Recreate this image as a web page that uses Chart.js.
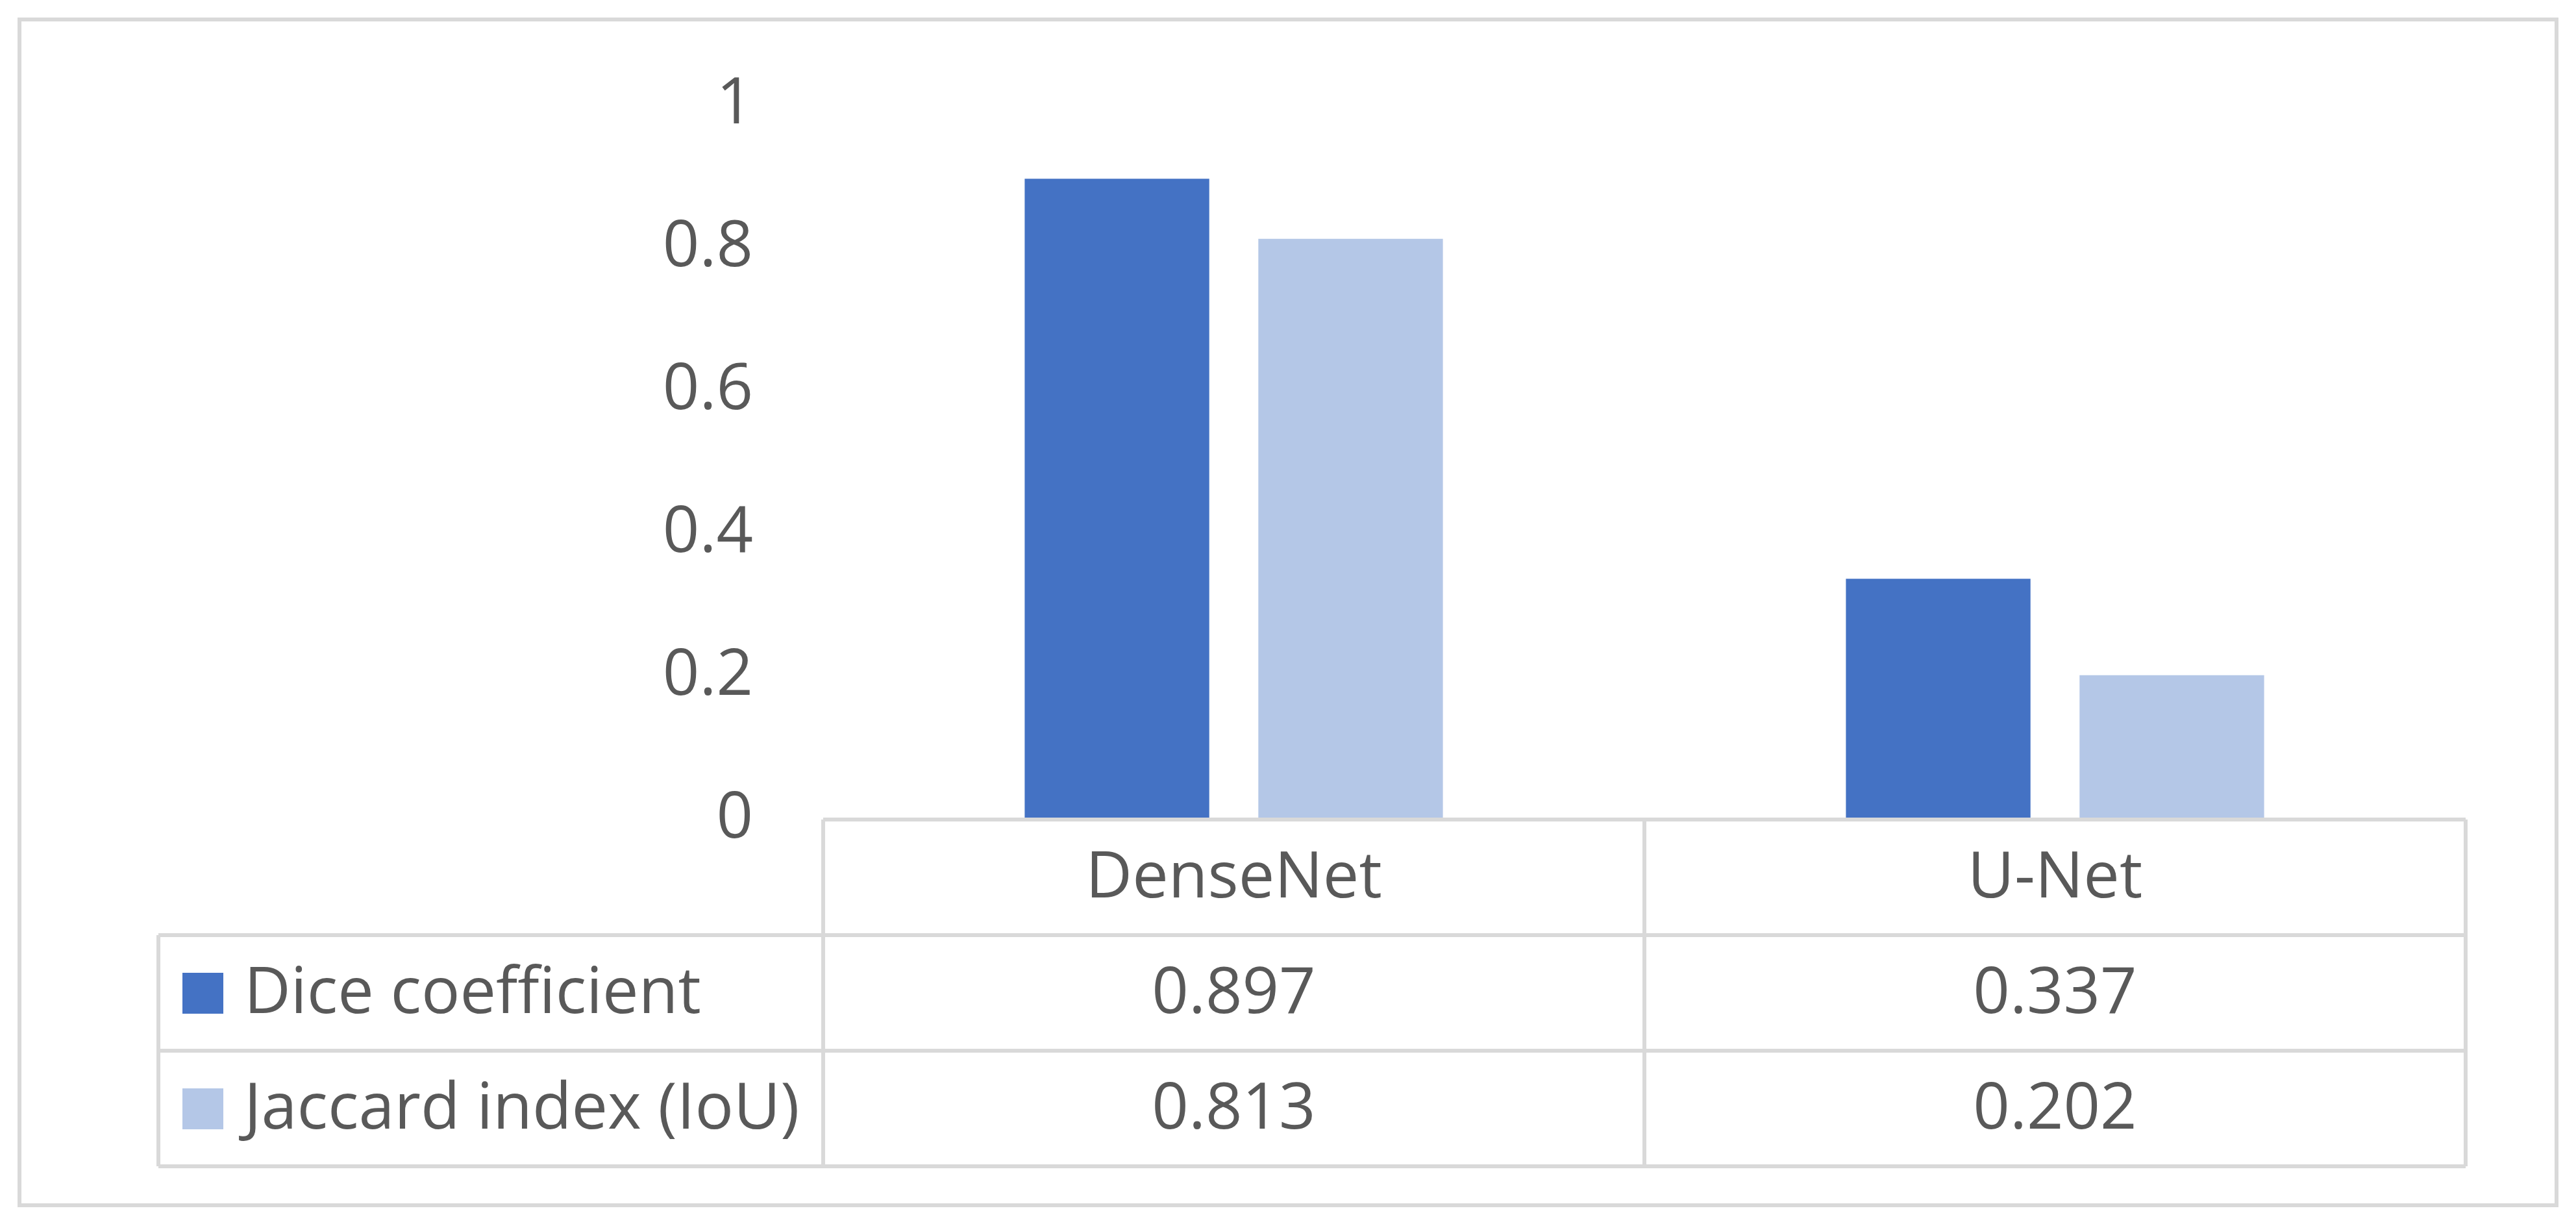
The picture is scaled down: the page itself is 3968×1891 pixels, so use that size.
<!DOCTYPE html>
<html lang="en">
<head>
<meta charset="UTF-8">
<script src="https://cdn.jsdelivr.net/npm/chart.js"></script>
<title>Dice / Jaccard</title>
<style>
  html, body { margin: 0; padding: 0; background: #fff; }
  #wrap { width: 3968px; height: 1891px; }
</style>
</head>
<body>
<div id="wrap"><canvas id="chart" width="3968" height="1891"></canvas></div>
<script>
// data
const categories = ['DenseNet', 'U-Net'];
const seriesNames = ['Dice coefficient', 'Jaccard index (IoU)'];
const diceValues = [0.897, 0.337];
const jaccardValues = [0.813, 0.202];
const yTicks = [0, 0.2, 0.4, 0.6, 0.8, 1];
const seriesColors = ['#4472C4', '#B4C7E7'];

const FONT = '"Open Sans", "Noto Sans", sans-serif';
const FONT_SIZE = 99;
const TEXT = '#595959';
const LINE = '#d9d9d9';

// frame around the whole chart
const framePlugin = {
    id: 'frame',
    beforeDraw(chart) {
        const ctx = chart.ctx;
        ctx.save();
        ctx.fillStyle = '#fff';
        ctx.fillRect(0, 0, chart.width, chart.height);
        ctx.strokeStyle = LINE;
        ctx.lineWidth = 6;
        ctx.strokeRect(30, 30, 3908, 1826);
        ctx.restore();
    }
};

// data table under the plot (Excel style)
const tablePlugin = {
    id: 'dataTable',
    afterDraw(chart) {
        const ctx = chart.ctx;
        const area = chart.chartArea;
        const xs = chart.scales.x;
        const n = categories.length;
        const colW = (area.right - area.left) / n;
        const rowH = 178;
        const top = area.bottom;
        const tableLeft = 244;
        const rows = [top, top + rowH, top + 2 * rowH, top + 3 * rowH];
        const values = [diceValues, jaccardValues];

        ctx.save();
        ctx.strokeStyle = LINE;
        ctx.lineWidth = 6;
        ctx.beginPath();
        // horizontal lines
        ctx.moveTo(area.left, rows[0]); ctx.lineTo(area.right, rows[0]);
        for (let r = 1; r < rows.length; r++) {
            ctx.moveTo(tableLeft, rows[r]); ctx.lineTo(area.right, rows[r]);
        }
        // vertical lines
        ctx.moveTo(tableLeft, rows[1]); ctx.lineTo(tableLeft, rows[3]);
        for (let i = 0; i <= n; i++) {
            const x = area.left + i * colW;
            ctx.moveTo(x, rows[0]); ctx.lineTo(x, rows[3]);
        }
        ctx.stroke();

        ctx.fillStyle = TEXT;
        ctx.font = FONT_SIZE + 'px ' + FONT;
        ctx.textBaseline = 'middle';
        ctx.textAlign = 'center';
        categories.forEach((c, i) => {
            ctx.fillText(c, xs.getPixelForValue(i), (rows[0] + rows[1]) / 2 + 3);
        });
        values.forEach((vals, s) => {
            const cy = (rows[s + 1] + rows[s + 2]) / 2 + 3;
            vals.forEach((v, i) => {
                ctx.fillText(v.toFixed(3), xs.getPixelForValue(i), cy);
            });
        });

        // legend keys + series names
        ctx.textAlign = 'left';
        seriesNames.forEach((name, s) => {
            const cy = (rows[s + 1] + rows[s + 2]) / 2;
            ctx.fillStyle = seriesColors[s];
            ctx.fillRect(281, cy - 31, 63, 63);
            ctx.fillStyle = TEXT;
            ctx.fillText(name, 376, cy + 3);
        });
        ctx.restore();
    }
};

new Chart(document.getElementById('chart'), {
    type: 'bar',
    data: {
        labels: categories,
        datasets: [
            { label: seriesNames[0], data: diceValues, backgroundColor: seriesColors[0] },
            { label: seriesNames[1], data: jaccardValues, backgroundColor: seriesColors[1] }
        ]
    },
    options: {
        responsive: false,
        animation: false,
        devicePixelRatio: 1,
        barPercentage: 0.79,
        categoryPercentage: 0.569,
        layout: { padding: { left: 0, right: 170, top: 162, bottom: 629 } },
        plugins: { legend: { display: false }, tooltip: { enabled: false } },
        scales: {
            x: { display: false },
            y: {
                min: 0, max: 1,
                grid: { display: false, drawTicks: false },
                border: { display: false },
                ticks: {
                    padding: 108,
                    color: TEXT,
                    font: { family: FONT, size: FONT_SIZE },
                    callback: v => String(v)
                },
                afterBuildTicks: s => { s.ticks = yTicks.map(v => ({ value: v })); },
                afterFit: s => { s.width = 1268; s.paddingTop = 0; s.paddingBottom = 0; }
            }
        }
    },
    plugins: [framePlugin, tablePlugin]
});
</script>
</body>
</html>
